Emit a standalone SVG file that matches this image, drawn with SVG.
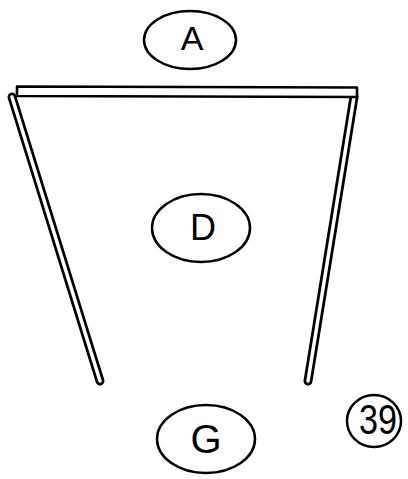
<svg xmlns="http://www.w3.org/2000/svg" width="408" height="479" viewBox="0 0 408 479">
<style>
.node{fill:none;stroke:#000;stroke-width:2.5}
.lbl{font-family:"Liberation Sans",Arial,sans-serif;fill:#000;text-anchor:middle}
.outer{stroke:#000;fill:none;stroke-linecap:round}
.inner{stroke:#fff;fill:none;stroke-linecap:round}
</style>
<rect width="408" height="479" fill="#fff"/>
<g id="frame">
<line class="outer" x1="12" y1="97" x2="100" y2="381" stroke-width="9"/>
<line class="inner" x1="12" y1="97" x2="100" y2="381" stroke-width="3.5"/>
<line class="outer" x1="354" y1="97" x2="308" y2="381" stroke-width="9"/>
<line class="inner" x1="354" y1="97" x2="308" y2="381" stroke-width="3.5"/>
<polygon points="17,86.5 357,87.5 357,97 17,96" fill="#fff" stroke="#000" stroke-width="2.6" stroke-linejoin="round"/>
</g>
<g id="A">
<ellipse class="node" cx="190" cy="40" rx="46" ry="29"/>
<text class="lbl" x="192" y="50" font-size="34">A</text>
</g>
<g id="D">
<ellipse class="node" cx="201" cy="228" rx="49" ry="34"/>
<text class="lbl" x="203" y="240" font-size="36">D</text>
</g>
<g id="G">
<ellipse class="node" cx="206" cy="439" rx="49" ry="34"/>
<text class="lbl" x="206" y="453" font-size="40">G</text>
</g>
<g id="n39">
<ellipse class="node" cx="374" cy="421" rx="27" ry="26"/>
<text class="lbl" x="378" y="434" font-size="42" textLength="38" lengthAdjust="spacingAndGlyphs">39</text>
</g>
</svg>
